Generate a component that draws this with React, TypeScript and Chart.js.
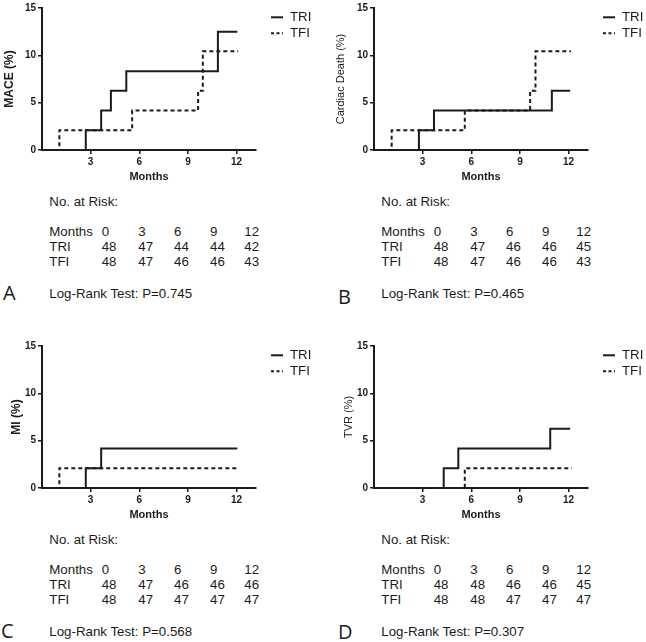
import React, { useEffect, useRef } from 'react';
import { Chart, registerables } from 'chart.js';

Chart.register(...registerables);

// ---- data ----
const riskMonths = [0, 3, 6, 9, 12];
const xTickValues = [3, 6, 9, 12];
const yTickValues = [0, 5, 10, 15];
const seriesNames = ['TRI', 'TFI'];

// A: MACE
const maceTriTimes = [0, 2.7, 3.65, 4.25, 5.2, 10.85, 12.05];
const maceTriPct = [0, 2.08, 4.17, 6.25, 8.33, 12.5, 12.5];
const maceTfiTimes = [0, 1.07, 5.56, 9.63, 9.92, 12.1];
const maceTfiPct = [0, 2.08, 4.17, 6.25, 10.42, 10.42];
const maceRiskTri = [48, 47, 44, 44, 42];
const maceRiskTfi = [48, 47, 46, 46, 43];

// B: Cardiac death
const cdTriTimes = [0, 2.77, 3.7, 10.97, 12.1];
const cdTriPct = [0, 2.08, 4.17, 6.25, 6.25];
const cdTfiTimes = [0, 1.09, 5.6, 9.63, 9.96, 12.15];
const cdTfiPct = [0, 2.08, 4.17, 6.25, 10.42, 10.42];
const cdRiskTri = [48, 47, 46, 46, 45];
const cdRiskTfi = [48, 47, 46, 46, 43];

// C: MI
const miTriTimes = [0, 2.7, 3.65, 12.05];
const miTriPct = [0, 2.08, 4.17, 4.17];
const miTfiTimes = [0, 1.07, 12.1];
const miTfiPct = [0, 2.08, 2.08];
const miRiskTri = [48, 47, 46, 46, 46];
const miRiskTfi = [48, 47, 47, 47, 47];

// D: TVR
const tvrTriTimes = [0, 4.3, 5.2, 10.87, 12.1];
const tvrTriPct = [0, 2.08, 4.17, 6.25, 6.25];
const tvrTfiTimes = [0, 5.6, 12.2];
const tvrTfiPct = [0, 2.08, 2.08];
const tvrRiskTri = [48, 48, 46, 46, 45];
const tvrRiskTfi = [48, 48, 47, 47, 47];

const pValues = ['0.745', '0.465', '0.568', '0.307'];
const panelLetters = ['A', 'B', 'C', 'D'];
const yTitles = ['MACE (%)', 'Cardiac Death (%)', 'MI (%)', 'TVR (%)'];

const INK = '#1b1b1b';
const FONT = '"Liberation Sans", Arial, sans-serif';

const legendPlugin = {
  id: 'kmLegend',
  afterDraw(chart: any) {
    const ctx = chart.ctx;
    ctx.save();
    const rows = [
      { name: seriesNames[0], y: 17.3, dash: [] as number[] },
      { name: seriesNames[1], y: 33.3, dash: [3, 2.5] },
    ];
    rows.forEach((r) => {
      ctx.strokeStyle = INK;
      ctx.lineWidth = 2;
      ctx.setLineDash(r.dash);
      ctx.beginPath();
      ctx.moveTo(271, r.y);
      ctx.lineTo(283, r.y);
      ctx.stroke();
      ctx.setLineDash([]);
      ctx.fillStyle = INK;
      ctx.font = '13.3px ' + FONT;
      ctx.textBaseline = 'middle';
      ctx.textAlign = 'left';
      ctx.fillText(r.name, 290, r.y + 0.5);
    });
    ctx.restore();
  },
};

type PanelProps = {
  left: number;
  top: number;
  idx: number;
  triTimes: number[];
  triPct: number[];
  tfiTimes: number[];
  tfiPct: number[];
  riskTri: number[];
  riskTfi: number[];
  titleBold: boolean;
  titleSize: number;
  titleOffset: number;
  letterLeft: number;
  letterCenter: number;
};

function Panel(p: PanelProps) {
  const ref = useRef<HTMLCanvasElement>(null);
  useEffect(() => {
    if (!ref.current) return;
    const toPts = (t: number[], v: number[]) => t.map((x, i) => ({ x, y: v[i] }));
    const chart = new Chart(ref.current, {
      type: 'line',
      data: {
        datasets: [
          {
            label: seriesNames[0],
            data: toPts(p.triTimes, p.triPct),
            borderColor: INK,
            borderWidth: 2,
            stepped: 'before',
            pointRadius: 0,
            fill: false,
          },
          {
            label: seriesNames[1],
            data: toPts(p.tfiTimes, p.tfiPct),
            borderColor: INK,
            borderWidth: 2,
            borderDash: [4, 3],
            stepped: 'before',
            pointRadius: 0,
            fill: false,
          },
        ],
      } as any,
      options: {
        animation: false,
        responsive: false,
        events: [],
        layout: { padding: { left: 0, top: 8, right: 67, bottom: 0 } },
        plugins: { legend: { display: false }, tooltip: { enabled: false } },
        scales: {
          x: {
            type: 'linear',
            min: 0,
            max: 13.2,
            afterBuildTicks: (s: any) => {
              s.ticks = xTickValues.map((v) => ({ value: v }));
            },
            afterFit: (s: any) => {
              s.height = 35;
            },
            grid: { drawOnChartArea: false, drawTicks: true, tickLength: 4, color: INK, lineWidth: 1.5 },
            border: { display: true, color: INK, width: 2 },
            ticks: { color: INK, font: { family: FONT, size: 10, weight: 'bold' }, padding: 2, maxRotation: 0 },
            title: {
              display: true,
              text: 'Months',
              color: INK,
              font: { family: FONT, size: 11, weight: 'bold' },
              padding: { top: 0, bottom: 1.5 },
            },
          },
          y: {
            type: 'linear',
            min: 0,
            max: 15,
            afterBuildTicks: (s: any) => {
              s.ticks = yTickValues.map((v) => ({ value: v }));
            },
            afterFit: (s: any) => {
              s.width = 42;
            },
            grid: { drawOnChartArea: false, drawTicks: true, tickLength: 4, color: INK, lineWidth: 1.5 },
            border: { display: true, color: INK, width: 2 },
            ticks: { color: INK, font: { family: FONT, size: 10, weight: 'bold' }, padding: 2 },
            title: {
              display: true,
              text: yTitles[p.idx],
              color: INK,
              font: { family: FONT, size: p.titleSize, weight: p.titleBold ? 'bold' : 'normal' },
              padding: { top: p.titleOffset, bottom: 0 },
            },
          },
        },
      } as any,
      plugins: [legendPlugin],
    });
    return () => chart.destroy();
  }, []);

  const textStyle = (left: number, center: number): React.CSSProperties => ({
    position: 'absolute',
    left,
    top: center - 8,
    lineHeight: '16px',
    fontSize: '13.3px',
    fontFamily: FONT,
    color: INK,
    whiteSpace: 'nowrap',
  });
  const cols = [101.7, 138.3, 174, 210, 244.3];

  return (
    <div style={{ position: 'absolute', left: p.left, top: p.top, width: 323, height: 304 }}>
      <canvas ref={ref} width={323} height={185} style={{ position: 'absolute', left: 0, top: 0, width: 323, height: 185 }} />
      <div style={textStyle(49.3, 202.3)}>No. at Risk:</div>
      <div style={textStyle(49.3, 231.5)}>Months</div>
      <div style={textStyle(49.3, 247.3)}>{seriesNames[0]}</div>
      <div style={textStyle(49.3, 262.3)}>{seriesNames[1]}</div>
      {riskMonths.map((m, i) => (
        <div key={'m' + i} style={textStyle(cols[i], 231.5)}>{m}</div>
      ))}
      {p.riskTri.map((v, i) => (
        <div key={'a' + i} style={textStyle(cols[i], 247.3)}>{v}</div>
      ))}
      {p.riskTfi.map((v, i) => (
        <div key={'b' + i} style={textStyle(cols[i], 262.3)}>{v}</div>
      ))}
      <div style={textStyle(49.3, 294.3)}>{'Log-Rank Test: P=' + pValues[p.idx]}</div>
      <div
        style={{
          position: 'absolute',
          left: p.letterLeft,
          top: p.letterCenter - 14,
          lineHeight: '28px',
          fontSize: '20px',
          fontFamily: '"Open Sans", sans-serif',
          color: INK,
        }}
      >
        {panelLetters[p.idx]}
      </div>
    </div>
  );
}

export default function App() {
  return (
    <div style={{ position: 'absolute', left: 0, top: 0, width: 646, height: 642, background: '#fff', overflow: 'hidden' }}>
      <Panel left={0} top={0} idx={0} triTimes={maceTriTimes} triPct={maceTriPct} tfiTimes={maceTfiTimes} tfiPct={maceTfiPct}
        riskTri={maceRiskTri} riskTfi={maceRiskTfi} titleBold={true} titleSize={12} titleOffset={2.5} letterLeft={3} letterCenter={293} />
      <Panel left={332} top={0} idx={1} triTimes={cdTriTimes} triPct={cdTriPct} tfiTimes={cdTfiTimes} tfiPct={cdTfiPct}
        riskTri={cdRiskTri} riskTfi={cdRiskTfi} titleBold={false} titleSize={11} titleOffset={2.5} letterLeft={6} letterCenter={297} />
      <Panel left={0} top={338} idx={2} triTimes={miTriTimes} triPct={miTriPct} tfiTimes={miTfiTimes} tfiPct={miTfiPct}
        riskTri={miRiskTri} riskTfi={miRiskTfi} titleBold={true} titleSize={12} titleOffset={9} letterLeft={1} letterCenter={293} />
      <Panel left={332} top={338} idx={3} triTimes={tvrTriTimes} triPct={tvrTriPct} tfiTimes={tvrTfiTimes} tfiPct={tvrTfiPct}
        riskTri={tvrRiskTri} riskTfi={tvrRiskTfi} titleBold={false} titleSize={11} titleOffset={10} letterLeft={6} letterCenter={294} />
    </div>
  );
}
